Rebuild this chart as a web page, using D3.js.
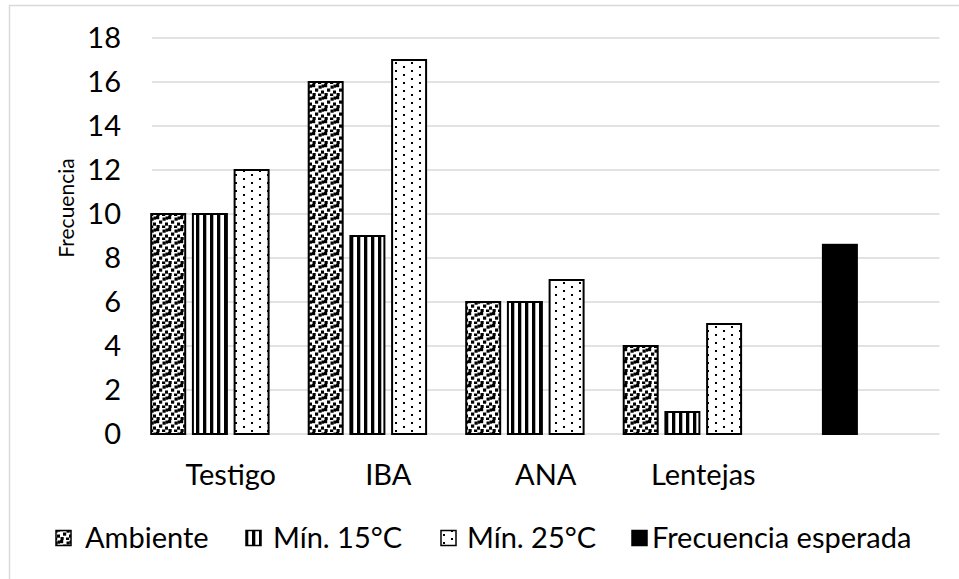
<!DOCTYPE html>
<html>
<head>
<meta charset="utf-8">
<script src="https://cdn.jsdelivr.net/npm/d3@7/dist/d3.min.js"></script>
<style>
body { margin: 0; background: #fff; }
text { font-family: Lato, "Open Sans", sans-serif; fill: #000; }
</style>
</head>
<body>
<svg id="chart"></svg>
<script>
// data
const categories = ['Testigo', 'IBA', 'ANA', 'Lentejas', '']
const seriesNames = ['Ambiente', 'Mín. 15°C', 'Mín. 25°C', 'Frecuencia esperada']
const ambiente = [10, 16, 6, 4, null]
const min15 = [10, 9, 6, 1, null]
const min25 = [12, 17, 7, 5, null]
const esperada = [null, null, null, null, 8.6]
const yTicks = [0, 2, 4, 6, 8, 10, 12, 14, 16, 18]

let width = 959,
height = 579

let fontSize = 29

let svg = d3.select('#chart')
.attr('width', width)
.attr('height', height)

// outer chart border (right/bottom edges fall outside the window)
svg.append('rect')
.attr('x', 9.5).attr('y', 5.5)
.attr('width', 960).attr('height', 580)
.attr('fill', 'none')
.attr('stroke', '#d9d9d9')
.attr('stroke-width', 1.5)

// fill patterns
let defs = svg.append('defs')

let confetti = defs.append('pattern')
.attr('id', 'confetti')
.attr('patternUnits', 'userSpaceOnUse')
.attr('width', 12).attr('height', 12)
confetti.append('rect').attr('width', 12).attr('height', 12).attr('fill', '#fff')
;[[0, 0], [6.5, 1.5], [3, 4.5], [9, 6.5], [0.5, 9], [6, 9.5], [9.5, 0.5]].forEach(p => {
    confetti.append('rect')
    .attr('x', p[0]).attr('y', p[1])
    .attr('width', 3.2).attr('height', 3.2)
    .attr('fill', '#000')
})

let stripes = defs.append('pattern')
.attr('id', 'stripes')
.attr('patternUnits', 'userSpaceOnUse')
.attr('width', 7).attr('height', 7)
stripes.append('rect').attr('width', 7).attr('height', 7).attr('fill', '#fff')
stripes.append('rect').attr('x', 0).attr('width', 3.3).attr('height', 7).attr('fill', '#000')

let dots = defs.append('pattern')
.attr('id', 'dots')
.attr('patternUnits', 'userSpaceOnUse')
.attr('width', 16).attr('height', 8)
dots.append('rect').attr('width', 16).attr('height', 8).attr('fill', '#fff')
dots.append('rect').attr('x', 3).attr('y', 2).attr('width', 2).attr('height', 2).attr('fill', '#000')
dots.append('rect').attr('x', 11).attr('y', 6).attr('width', 2).attr('height', 2).attr('fill', '#000')

let fills = ['url(#confetti)', 'url(#stripes)', 'url(#dots)', '#000']
let seriesValues = [ambiente, min15, min25, esperada]
// slot inside the cluster for each series (expected bar sits in the 2nd slot)
let slots = [0, 1, 2, 1]

// scales
let y = d3.scaleLinear()
.domain([0, 18])
.range([434, 38])

let x0 = d3.scaleBand()
.domain(categories)
.range([152, 939.5])
.paddingInner(0)

let clusterWidth = 159.1
let x1 = d3.scaleBand()
.domain([0, 1, 2, 3])
.range([0, clusterWidth])
.paddingInner(0.185)

// gridlines
svg.append('g')
.selectAll('line')
.data(yTicks)
.enter().append('line')
.attr('x1', 152)
.attr('x2', 939.5)
.attr('y1', d => y(d))
.attr('y2', d => y(d))
.attr('stroke', '#d9d9d9')
.attr('stroke-width', 1.5)

// y axis labels
let yAxis = svg.append('g')
.attr('transform', 'translate(121,0)')
.call(d3.axisLeft(y).tickValues(yTicks).tickSize(0).tickPadding(0))
yAxis.select('.domain').remove()
yAxis.selectAll('text')
.attr('font-size', fontSize)
.attr('font-family', 'Lato, "Open Sans", sans-serif')

svg.append('text')
.attr('transform', 'translate(74,208) rotate(-90)')
.attr('text-anchor', 'middle')
.attr('font-size', 21)
.text('Frecuencia')

// bars
seriesValues.forEach((values, s) => {
    let bars = values
    .map((v, i) => ({ cat: categories[i], value: v }))
    .filter(d => d.value !== null)

    svg.append('g')
    .selectAll('rect')
    .data(bars)
    .enter().append('rect')
    .attr('x', d => x0(d.cat) + x0.bandwidth() / 2 - clusterWidth / 2 + x1(slots[s]))
    .attr('y', d => y(d.value))
    .attr('width', x1.bandwidth())
    .attr('height', d => y(0) - y(d.value))
    .attr('fill', fills[s])
    .attr('stroke', '#000')
    .attr('stroke-width', 2)
})

// category labels
let xAxis = svg.append('g')
.attr('transform', 'translate(0,458)')
.call(d3.axisBottom(x0).tickSize(0).tickPadding(0))
xAxis.select('.domain').remove()
xAxis.selectAll('text')
.attr('font-size', fontSize)
.attr('font-family', 'Lato, "Open Sans", sans-serif')
.attr('dy', '0.93em')

// legend
let swatchX = [56, 246, 441, 632]
let textX = [85, 273, 467, 652]

let legend = svg.append('g')
.selectAll('g')
.data(seriesNames)
.enter().append('g')

legend.append('rect')
.attr('x', (d, i) => swatchX[i])
.attr('y', 530.5)
.attr('width', 15)
.attr('height', 15)
.attr('fill', (d, i) => fills[i])
.attr('stroke', '#000')
.attr('stroke-width', 1.5)

legend.append('text')
.attr('x', (d, i) => textX[i])
.attr('y', 548)
.attr('font-size', fontSize)
.text(d => d)
</script>
</body>
</html>
